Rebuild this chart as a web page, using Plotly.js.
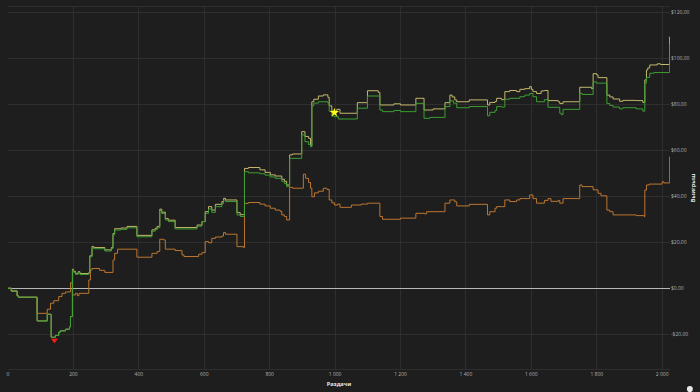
<!DOCTYPE html>
<html>
<head>
<meta charset="utf-8">
<script src="https://cdn.plot.ly/plotly-3.0.1.min.js"></script>
<style>html,body{margin:0;padding:0;background:#1e1e1e;}#chart{width:700px;height:392px;}</style>
</head>
<body>
<div id="chart"></div>
<script>
// Net won (green)
const greenX = [0,10,28,32,89,120,132,145,155,160,176,188,191,197,200,206,215,220,247,250,257,262,296,316,321,326,345,364,394,440,450,456,464,470,481,490,511,578,593,603,613,623,634,654,659,665,700,710,723,735,770,786,802,817,837,845,852,861,898,908,919,925,929,935,949,978,982,990,998,1010,1068,1099,1137,1145,1180,1200,1247,1272,1290,1336,1351,1362,1372,1410,1466,1473,1489,1494,1509,1519,1534,1565,1580,1595,1605,1616,1640,1651,1687,1692,1697,1748,1755,1789,1800,1831,1840,1850,1870,1880,1921,1941,1947,1952,1962,1975,2023];
const greenY = [0,-1.2,-3.3,-3.9,-14.2,-11.3,-21.3,-20.5,-19.1,-18.5,-17.8,-16.8,-12.3,8.0,7.0,6.1,6.8,6.0,6.5,13.7,17.7,17.2,16.2,17.2,23.2,25.3,25.6,26.3,22.4,24.8,25.5,26.3,33.8,32.5,29.7,29.0,25.8,27.0,29.0,32.6,34.5,33.0,35.5,36.8,38.4,37.7,31.9,31.2,50.7,50.2,49.8,49.2,48.4,47.8,46.5,45.5,44.2,56.5,66.7,63.7,62.5,61.5,79.3,80.5,81.1,80.5,77.0,74.9,74.6,73.6,78.3,83.6,77.5,76.8,77.3,76.8,80.4,73.9,74.3,79.0,81.5,80.5,78.5,79.0,75.0,76.5,77.3,79.0,78.8,82.2,82.6,83.3,84.0,84.7,83.3,81.1,82.0,78.7,76.1,75.5,77.8,84.8,84.3,89.7,89.2,80.3,79.5,78.8,78.0,78.5,78.0,77.0,89.2,91.7,93.5,93.8,106.4];

// All-in EV (khaki)
const khakiX = [0,10,28,32,89,120,132,145,155,160,176,188,191,197,200,206,215,220,247,250,257,262,296,316,321,326,345,364,394,440,450,456,464,470,481,490,511,578,593,603,613,623,634,654,659,665,700,710,723,735,770,786,802,817,837,845,852,861,870,898,908,919,925,929,935,949,964,978,982,990,998,1005,1015,1068,1099,1132,1137,1180,1200,1247,1272,1300,1336,1351,1358,1366,1372,1410,1466,1473,1489,1494,1509,1519,1534,1555,1565,1580,1595,1600,1605,1616,1630,1640,1651,1682,1687,1697,1748,1784,1789,1800,1804,1831,1840,1850,1870,1880,1921,1941,1947,1952,1956,1962,1985,1995,2023];
const khakiY = [0,-1.2,-3.3,-3.9,-14.2,-11.3,-21.3,-20.5,-19.1,-18.5,-17.8,-16.8,-12.3,8.3,7.4,6.5,7.2,6.4,6.9,14.1,18.2,17.7,16.7,17.7,23.8,25.9,26.2,26.9,23.0,25.4,26.1,26.9,34.4,33.1,30.3,29.6,26.4,27.5,29.0,33.3,35.5,34.0,36.5,37.7,39.1,38.4,32.9,32.0,52.1,52.5,51.5,50.4,49.3,48.8,47.4,46.5,44.9,58.0,58.4,68.1,66.0,65.2,62.0,81.1,82.2,83.6,84.1,83.0,79.3,77.0,76.4,77.8,76.1,80.7,85.9,85.2,79.7,80.2,79.7,82.6,77.5,78.0,80.7,84.0,83.2,81.9,81.1,81.9,79.7,80.8,81.2,82.6,82.0,85.5,86.0,85.5,86.5,86.8,87.7,86.5,85.5,84.7,85.8,86.0,81.6,81.1,80.3,81.1,87.4,86.8,93.3,92.8,91.6,84.0,83.2,82.3,81.3,81.7,81.6,80.8,90.6,94.9,95.8,97.1,97.6,97.3,109.4];

// Without showdown (orange)
const orangeX = [0,10,28,32,89,120,130,140,155,165,176,191,197,206,212,217,247,252,257,280,296,321,326,335,394,440,456,464,476,481,511,532,538,583,593,603,613,623,634,654,659,665,700,720,723,735,770,786,802,817,832,837,845,852,861,870,903,910,919,925,929,937,949,964,975,982,990,998,1008,1015,1050,1080,1099,1137,1145,1200,1247,1272,1280,1336,1351,1366,1372,1410,1466,1473,1489,1494,1509,1519,1534,1555,1565,1595,1605,1616,1640,1651,1660,1682,1687,1697,1748,1755,1789,1804,1813,1831,1840,1850,1921,1945,1947,1952,1960,2000,2005,2023];
const orangeY = [0,-1.2,-3.3,-3.9,-10.9,-9.1,-6.5,-5.4,-3.6,-2.2,-1.6,2.4,-2.9,-2.2,-3.2,-2.2,3.6,8.0,8.6,7.8,6.9,12.3,15.2,17.0,13.5,15.2,16.0,21.3,21.0,17.0,16.4,14.5,13.8,14.8,15.5,20.3,19.8,21.7,22.3,22.7,24.2,23.5,18.1,17.7,36.9,37.3,36.6,35.8,34.8,34.0,33.5,31.9,31.2,29.7,43.9,43.5,49.6,47.8,46.0,43.5,39.8,41.5,42.2,43.5,43.0,38.4,37.2,36.2,36.6,35.2,36.2,36.6,37.0,31.2,30.0,30.5,32.6,32.4,33.3,37.0,38.4,37.6,35.8,36.5,31.9,33.3,34.8,35.5,35.5,38.4,37.7,38.4,39.0,40.6,39.0,37.0,38.2,39.0,37.8,38.2,37.0,39.0,44.9,44.2,42.8,41.3,40.2,34.0,33.3,31.9,31.6,31.1,42.7,44.9,45.3,46.3,45.8,57.2];

// Special points
const minX = [142];
const minY = [-22.6];
const starX = [998];
const starY = [76.4];

// Ticks
const xTickVals = [0,200,400,600,800,1000,1200,1400,1600,1800,2000];
const xTickText = ["0","200","400","600","800","1 000","1 200","1 400","1 600","1 800","2 000"];
const yTickVals = [-20,0,20,40,60,80,100,120];
const yTickText = ["-$20,00","$0,00","$20,00","$40,00","$60,00","$80,00","$100,00","$120,00"];

const traces = [
  {x: orangeX, y: orangeY, type:'scatter', mode:'lines', line:{color:'#bd7630', width:1, shape:'hv'}, hoverinfo:'skip'},
  {x: khakiX, y: khakiY, type:'scatter', mode:'lines', line:{color:'#c4b86c', width:1, shape:'hv'}, hoverinfo:'skip'},
  {x: greenX, y: greenY, type:'scatter', mode:'lines', line:{color:'#3c9e32', width:1, shape:'hv'}, hoverinfo:'skip'},
  {x: minX, y: minY, type:'scatter', mode:'markers', marker:{symbol:'triangle-down', color:'#ff1a1a', size:6}, hoverinfo:'skip'},
  {x: starX, y: starY, type:'scatter', mode:'markers', marker:{symbol:'star', color:'#ffff10', size:7}, hoverinfo:'skip'}
];

const layout = {
  width:700, height:392,
  paper_bgcolor:'#1e1e1e', plot_bgcolor:'#1e1e1e',
  margin:{l:8, r:30, t:7, b:23},
  showlegend:false,
  font:{family:'Open Sans, sans-serif', color:'#b0b0b0', size:5},
  xaxis:{
    range:[0,2024], tickvals:xTickVals, ticktext:xTickText,
    showgrid:true, gridcolor:'#2e2e2e', gridwidth:1,
    zeroline:false, showline:true, linecolor:'#2e2e2e', mirror:true,
    ticks:'', tickfont:{size:5, color:'#b0b0b0'},
    title:{text:'Раздачи', font:{size:5.5, color:'#e8e8e8', weight:'bold'}, standoff:6}
  },
  yaxis:{
    range:[-35.1,122.3], side:'right', tickvals:yTickVals, ticktext:yTickText,
    showgrid:true, gridcolor:'#2e2e2e', gridwidth:1,
    zeroline:true, zerolinecolor:'#b8b8b8', zerolinewidth:1.2,
    showline:false, ticks:'', tickfont:{size:5, color:'#b0b0b0'},
    title:{text:'Выигрыш', font:{size:5.5, color:'#e8e8e8', weight:'bold'}, standoff:2}
  },
  shapes:[
    {type:'circle', xref:'paper', yref:'paper', x0:1.0255, x1:1.0345, y0:-0.064, y1:-0.047, fillcolor:'#e8e8e8', line:{width:0}}
  ]
};

Plotly.newPlot('chart', traces, layout, {displayModeBar:false, staticPlot:true});
</script>
</body>
</html>
